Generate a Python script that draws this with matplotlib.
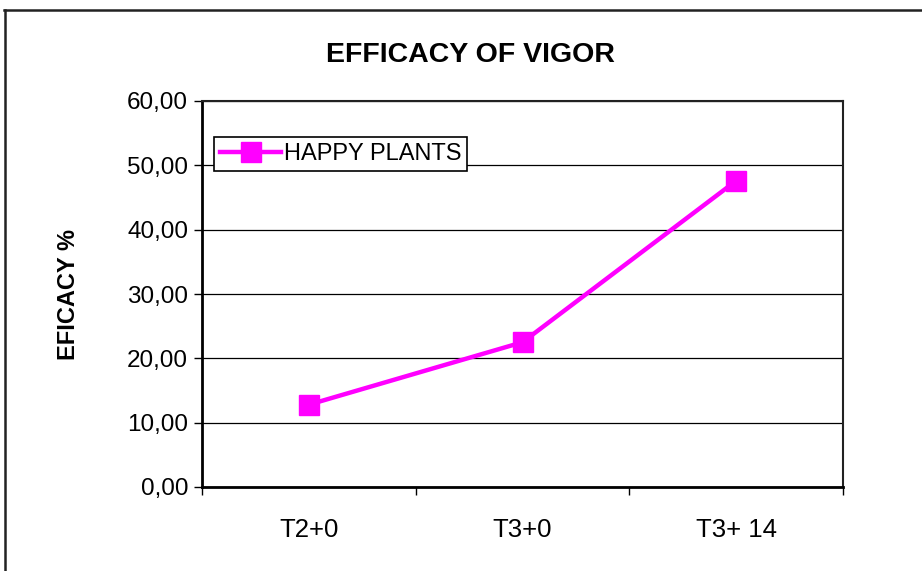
import matplotlib
matplotlib.use("Agg")
import matplotlib.pyplot as plt
from matplotlib.lines import Line2D
from matplotlib.ticker import FuncFormatter

plt.rcParams["font.family"] = ["Liberation Sans", "DejaVu Sans"]

categories = ["T2+0", "T3+0", "T3+ 14"]
happy_plants = [12.8, 22.5, 47.6]
y_ticks = [0, 10, 20, 30, 40, 50, 60]

W, H = 922, 571
fig = plt.figure(figsize=(W / 100, H / 100), dpi=100)
ax = fig.add_axes([202 / W, (H - 487) / H, 641 / W, 386 / H])

x = list(range(len(categories)))
ax.plot(x, happy_plants, color="#FF00FF", linewidth=3.2, marker="s",
        markersize=14, markerfacecolor="#FF00FF", markeredgecolor="#FF00FF",
        label="HAPPY PLANTS", zorder=3)

ax.set_ylim(0, 60)
ax.set_yticks(y_ticks)
ax.yaxis.set_major_formatter(FuncFormatter(lambda v, p: f"{v:.2f}".replace(".", ",")))
ax.grid(axis="y", color="black", linewidth=0.9)
ax.set_axisbelow(True)

ax.set_xlim(-0.5, len(categories) - 0.5)
ax.set_xticks([i - 0.5 for i in range(len(categories) + 1)])
ax.set_xticklabels([])
ax.set_xticks(x, minor=True)
ax.set_xticklabels(categories, minor=True)
ax.tick_params(axis="x", which="minor", length=0, pad=22, labelsize=18.5)
ax.tick_params(axis="x", which="major", length=6, width=1, direction="out")
ax.tick_params(axis="y", length=6, width=1, direction="out", labelsize=17.5, pad=4)

for side in ["left", "bottom"]:
    ax.spines[side].set_linewidth(2)
for side in ["top", "right"]:
    ax.spines[side].set_linewidth(1.5)
    ax.spines[side].set_color("#222222")

ax.set_ylabel("EFICACY %", fontsize=17, fontweight="bold", labelpad=34)
fig.text(470 / W, 1 - 55 / H, "EFFICACY OF VIGOR", ha="center", va="center",
         fontsize=20.5, fontweight="bold")

leg = ax.legend(loc="upper left", bbox_to_anchor=(12 / 641, 1 - 36 / 386),
                borderaxespad=0, fontsize=17, frameon=True, fancybox=False,
                edgecolor="black", handlelength=2.6, handletextpad=0.1,
                borderpad=0.25, markerscale=1.0)
leg.get_frame().set_linewidth(1.2)
leg.get_frame().set_alpha(1)

# outer chart border (top and left only visible)
fig.add_artist(Line2D([4 / W, 1], [1 - 9.5 / H, 1 - 9.5 / H], color="#222222",
                      linewidth=1.8, transform=fig.transFigure))
fig.add_artist(Line2D([4.5 / W, 4.5 / W], [0, 1 - 9.5 / H], color="#222222",
                      linewidth=1.8, transform=fig.transFigure))

fig.savefig("out.png", dpi=100)
